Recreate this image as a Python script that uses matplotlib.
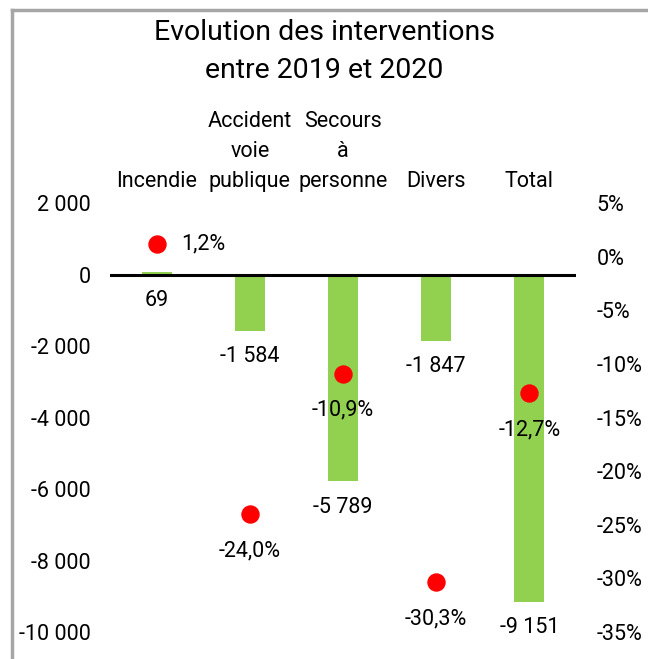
import matplotlib
matplotlib.use("Agg")
import matplotlib.pyplot as plt
from matplotlib.lines import Line2D

plt.rcParams['font.family'] = ['Roboto', 'DejaVu Sans']

categories = ["Incendie", "Accident\nvoie\npublique", "Secours\nà\npersonne", "Divers", "Total"]
values = [69, -1584, -5789, -1847, -9151]
value_labels = ["69", "-1 584", "-5 789", "-1 847", "-9 151"]
pcts = [1.2, -24.0, -10.9, -30.3, -12.7]
pct_labels = ["1,2%", "-24,0%", "-10,9%", "-30,3%", "-12,7%"]
left_ticks = [2000, 0, -2000, -4000, -6000, -8000, -10000]
left_tick_labels = ["2 000", "0", "-2 000", "-4 000", "-6 000", "-8 000", "-10 000"]
right_ticks = [5, 0, -5, -10, -15, -20, -25, -30, -35]
right_tick_labels = ["5%", "0%", "-5%", "-10%", "-15%", "-20%", "-25%", "-30%", "-35%"]

FS = 15.5
W, H = 648, 659
fig = plt.figure(figsize=(W / 100, H / 100), dpi=100)
ax = fig.add_axes([110 / W, 1 - 632 / H, (576 - 110) / W, (632 - 203) / H])
ax2 = ax.twinx()

x = list(range(len(categories)))
ax.bar(x, values, width=0.32, color="#92D050", zorder=2)
ax.axhline(0, color="black", lw=2.2, zorder=3)
ax.set_xlim(-0.5, len(categories) - 0.5)
ax.set_ylim(-10000, 2000)
ax.set_yticks(left_ticks)
ax.set_yticklabels(left_tick_labels)
ax.set_xticks([])
ax.tick_params(axis='y', length=0, labelsize=FS, pad=14)

ax2.set_ylim(-35, 5)
ax2.set_yticks(right_ticks)
ax2.set_yticklabels(right_tick_labels)
ax2.tick_params(axis='y', length=0, labelsize=FS, pad=15)
ax2.scatter(x, pcts, s=150, color="#FF0000", zorder=4)

for a in (ax, ax2):
    for s in a.spines.values():
        s.set_visible(False)

# value labels below bars
for xi, v, lab in zip(x, values, value_labels):
    ax.annotate(lab, (xi, min(v, 0)), xytext=(0, -11), textcoords="offset points",
                ha="center", va="top", fontsize=FS)

# percent labels
for i, (xi, p, lab) in enumerate(zip(x, pcts, pct_labels)):
    if i == 0:
        ax2.annotate(lab, (xi, p), xytext=(18, 0), textcoords="offset points",
                     ha="left", va="center", fontsize=FS)
    else:
        ax2.annotate(lab, (xi, p), xytext=(0, -19), textcoords="offset points",
                     ha="center", va="top", fontsize=FS)

# category labels at top
for xi, c in zip(x, categories):
    ax.annotate(c, (xi, 2000), xytext=(0, 8), textcoords="offset points",
                ha="center", va="bottom", fontsize=FS, linespacing=1.55,
                annotation_clip=False)

fig.text(0.5, 1 - 32 / H, "Evolution des interventions", ha="center", va="center",
         fontsize=20.5)
fig.text(0.5, 1 - 70 / H, "entre 2019 et 2020", ha="center", va="center",
         fontsize=20.5)

# chart border
fig.add_artist(Line2D([12 / W, 12 / W], [0, 1 - 10 / H], transform=fig.transFigure, color="#A6A6A6", lw=2.5))
fig.add_artist(Line2D([12 / W, 1], [1 - 10 / H, 1 - 10 / H], transform=fig.transFigure, color="#A6A6A6", lw=2.5))

fig.savefig("out.png", dpi=100)
